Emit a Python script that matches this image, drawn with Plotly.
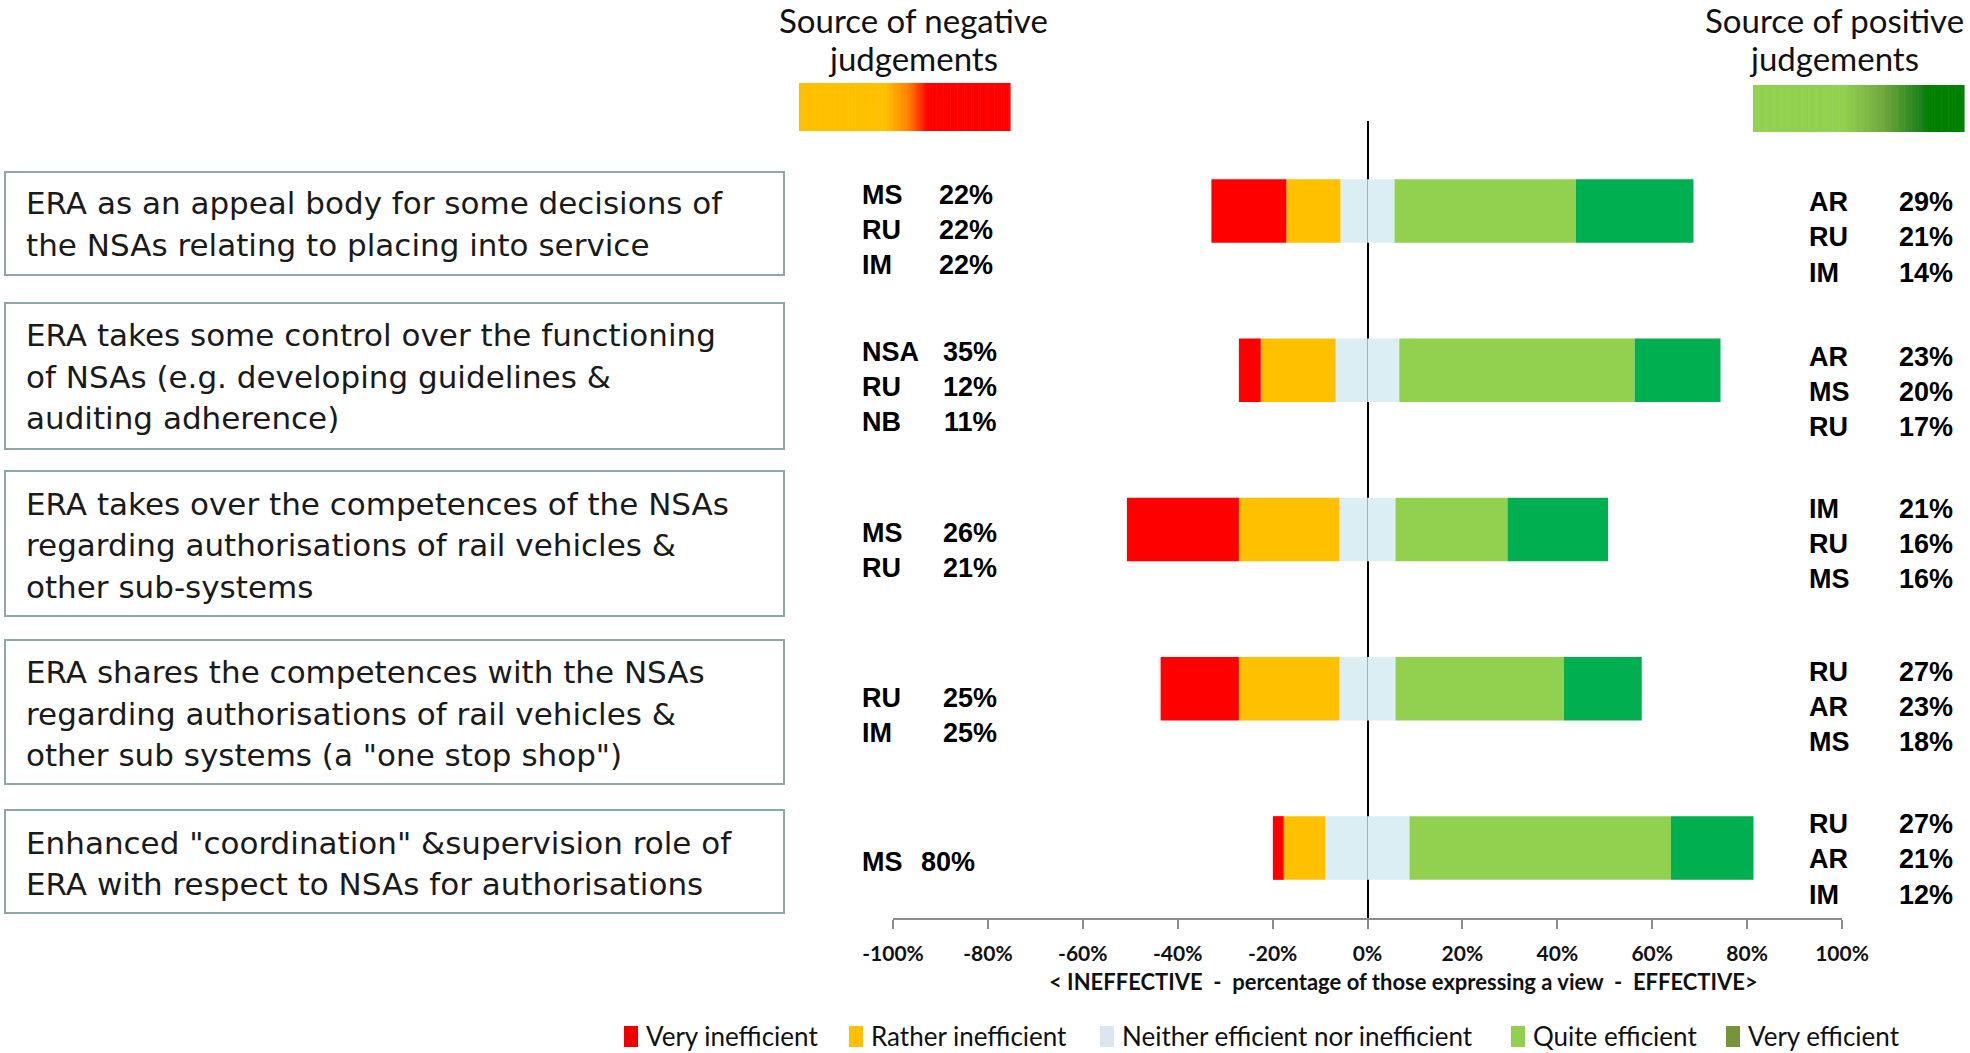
import plotly.graph_objects as go

W, H = 1970, 1053

# ---------------- data ----------------
statements = [
    ["ERA as an appeal body for some decisions of", "the NSAs relating to placing into service"],
    ["ERA takes some control over the functioning", "of NSAs (e.g. developing guidelines &", "auditing adherence)"],
    ["ERA takes over the competences of the NSAs", "regarding authorisations of rail vehicles &", "other sub-systems"],
    ["ERA shares the competences with the NSAs", "regarding authorisations of rail vehicles &", "other sub systems (a \"one stop shop\")"],
    ["Enhanced \"coordination\" &supervision role of", "ERA with respect to NSAs for authorisations"],
]
categories = [0, 1, 2, 3, 4]
very_inefficient = [15.8, 4.6, 23.6, 16.5, 2.3]
rather_inefficient = [11.4, 15.8, 21.2, 21.2, 8.8]
neither = [11.4, 13.4, 11.8, 11.8, 17.7]
quite_efficient = [38.2, 49.6, 23.6, 35.5, 55.1]
very_efficient = [24.8, 18.1, 21.2, 16.4, 17.4]

neg_codes = [["MS", "RU", "IM"], ["NSA", "RU", "NB"], ["MS", "RU"], ["RU", "IM"], ["MS"]]
neg_pcts = [[22, 22, 22], [35, 12, 11], [26, 21], [25, 25], [80]]
pos_codes = [["AR", "RU", "IM"], ["AR", "MS", "RU"], ["IM", "RU", "MS"], ["RU", "AR", "MS"], ["RU", "AR", "IM"]]
pos_pcts = [[29, 21, 14], [23, 20, 17], [21, 16, 16], [27, 23, 18], [27, 21, 12]]

tick_vals = [-100, -80, -60, -40, -20, 0, 20, 40, 60, 80, 100]
tick_text = ["-100%", "-80%", "-60%", "-40%", "-20%", "0%", "20%", "40%", "60%", "80%", "100%"]

legend_names = ["Very inefficient", "Rather inefficient", "Neither efficient nor inefficient",
                "Quite efficient", "Very efficient"]

# ---------------- styles ----------------
C_VI, C_RI, C_N, C_QE, C_VE = "#FF0000", "#FFC000", "#DAEEF3", "#92D050", "#00B050"
legend_colors = ["#EE0000", "#FFC000", "#DCE6F1", "#92D050", "#77933C"]


def px(x):
    return x / W


def py(y):
    return 1 - y / H


fig = go.Figure()
half_n = [v / 2 for v in neither]
bar_w = 0.4


def addbar(vals, color, sign):
    fig.add_trace(go.Bar(y=categories, x=[sign * v for v in vals], orientation="h",
                         marker=dict(color=color, line=dict(width=0)), width=bar_w,
                         showlegend=False, hoverinfo="skip"))


addbar(half_n, C_N, 1)
addbar(half_n, C_N, -1)
addbar(quite_efficient, C_QE, 1)
addbar(rather_inefficient, C_RI, -1)
addbar(very_efficient, C_VE, 1)
addbar(very_inefficient, C_VI, -1)

# plot area in pixels
X0, X1 = 893, 1842
Y0, Y1 = 121, 918
c0, step = 211, 159.25
ytop = (Y0 - c0) / step
ybot = (Y1 - c0) / step

fig.update_layout(
    width=W, height=H, margin=dict(l=0, r=0, t=0, b=0, autoexpand=False),
    plot_bgcolor="white", paper_bgcolor="white",
    barmode="relative", showlegend=False,
    xaxis=dict(domain=[px(X0), px(X1)], range=[-100, 100], tickvals=tick_vals, ticktext=tick_text,
               showgrid=False, zeroline=True, zerolinecolor="#000000", zerolinewidth=2,
               showline=True, linecolor="#8C8C8C", linewidth=2, ticks="outside", ticklen=9,
               tickcolor="#8C8C8C", tickwidth=2, ticklabelstandoff=7, automargin=False,
               tickfont=dict(family="Lato", size=21, color="#111111", weight="bold")),
    yaxis=dict(domain=[py(Y1), py(Y0)], range=[ybot, ytop], showgrid=False, zeroline=False,
               showticklabels=False, showline=False, ticks="", automargin=False),
    font=dict(family="Lato"),
)

shapes = []
ann = []

# axis title
ann.append(dict(x=px(1403), y=py(981), xref="paper", yref="paper", showarrow=False,
                text="< INEFFECTIVE  -  percentage of those expressing a view  -  EFFECTIVE>",
                font=dict(family="Lato", size=22, color="#111111", weight="bold"),
                xanchor="center", yanchor="middle"))

# left statement boxes
boxes = [(172, 275), (303, 449), (471, 616), (640, 784), (810, 913)]
line_ys = [[203, 245], [335, 377, 418], [504, 545, 587], [672, 714, 755], [843, 884]]
for (bt, bb), lines, ys in zip(boxes, statements, line_ys):
    shapes.append(dict(type="rect", xref="paper", yref="paper", x0=px(5), x1=px(784),
                       y0=py(bb), y1=py(bt), line=dict(color="#8FA6AA", width=2),
                       fillcolor="white", layer="below"))
    for t, yy in zip(lines, ys):
        ann.append(dict(x=px(24), y=py(yy), xref="paper", yref="paper", showarrow=False,
                        text=t, xanchor="left", yanchor="middle",
                        font=dict(family="DejaVu Sans", size=31, color="#1a1a1a")))

# negative source labels
neg_rows = [[195, 230, 265], [352, 387, 422], [533, 568], [698, 733], [862]]
neg_right = [995, 999, 999, 999, 977]
for codes, pcts, ys, xr in zip(neg_codes, neg_pcts, neg_rows, neg_right):
    for c, p, yy in zip(codes, pcts, ys):
        ann.append(dict(x=px(860), y=py(yy), xref="paper", yref="paper", showarrow=False,
                        text=c, xanchor="left", yanchor="middle",
                        font=dict(family="Liberation Sans", size=27, color="black", weight="bold")))
        ann.append(dict(x=px(xr), y=py(yy), xref="paper", yref="paper", showarrow=False,
                        text=f"{p}%", xanchor="right", yanchor="middle",
                        font=dict(family="Liberation Sans", size=27, color="black", weight="bold")))

# positive source labels
pos_rows = [[202, 237, 273], [357, 392, 427], [509, 544, 579], [672, 707, 742], [824, 859, 895]]
for codes, pcts, ys in zip(pos_codes, pos_pcts, pos_rows):
    for c, p, yy in zip(codes, pcts, ys):
        ann.append(dict(x=px(1807), y=py(yy), xref="paper", yref="paper", showarrow=False,
                        text=c, xanchor="left", yanchor="middle",
                        font=dict(family="Liberation Sans", size=27, color="black", weight="bold")))
        ann.append(dict(x=px(1955), y=py(yy), xref="paper", yref="paper", showarrow=False,
                        text=f"{p}%", xanchor="right", yanchor="middle",
                        font=dict(family="Liberation Sans", size=27, color="black", weight="bold")))

# top headings
for cx, t1 in [(913, "Source of negative"), (1834, "Source of positive")]:
    ann.append(dict(x=px(cx), y=py(20), xref="paper", yref="paper", showarrow=False, text=t1,
                    xanchor="center", yanchor="middle", font=dict(family="Lato", size=33, color="#111111")))
    ann.append(dict(x=px(cx), y=py(58), xref="paper", yref="paper", showarrow=False, text="judgements",
                    xanchor="center", yanchor="middle", font=dict(family="Lato", size=33, color="#111111")))


def hex2rgb(h):
    h = h.lstrip("#")
    return tuple(int(h[i:i + 2], 16) for i in (0, 2, 4))


def gradient_box(x0, x1, y0, y1, stops):
    n = 120
    w = (x1 - x0) / n
    for i in range(n):
        f = (i + 0.5) / n
        for j in range(len(stops) - 1):
            if stops[j][0] <= f <= stops[j + 1][0]:
                a, b = stops[j], stops[j + 1]
                t = 0 if b[0] == a[0] else (f - a[0]) / (b[0] - a[0])
                ca, cb = hex2rgb(a[1]), hex2rgb(b[1])
                col = "rgb(%d,%d,%d)" % tuple(round(ca[k] + (cb[k] - ca[k]) * t) for k in range(3))
                break
        shapes.append(dict(type="rect", xref="paper", yref="paper",
                           x0=px(x0 + i * w), x1=px(x0 + (i + 1) * w + 0.6),
                           y0=py(y1), y1=py(y0), line=dict(width=0), fillcolor=col))


gradient_box(799, 1010, 83, 131, [(0, "#FFC000"), (0.41, "#FFC000"), (0.52, "#FF8000"),
                                  (0.61, "#FF0000"), (1, "#FF0000")])
gradient_box(1753, 1964, 85, 132, [(0, "#92D050"), (0.43, "#92D050"), (0.62, "#6FA83E"),
                                   (0.8, "#1A7F1A"), (0.82, "#008000"), (1, "#008000")])

# bottom legend
leg_sq = [624, 849, 1100, 1511, 1726]
for x, name, col in zip(leg_sq, legend_names, legend_colors):
    shapes.append(dict(type="rect", xref="paper", yref="paper", x0=px(x), x1=px(x + 14),
                       y0=py(1047), y1=py(1026), line=dict(width=0), fillcolor=col))
    ann.append(dict(x=px(x + 20), y=py(1036), xref="paper", yref="paper", showarrow=False,
                    text=name, xanchor="left", yanchor="middle",
                    font=dict(family="Lato", size=26, color="#111111")))

fig.update_layout(shapes=shapes, annotations=ann)
post = ("document.body.style.margin='0';document.body.style.padding='0';"
        "document.body.style.overflow='hidden';"
        "var gd=document.getElementById('{plot_id}');"
        "Plotly.relayout(gd,{width:1970,height:1053});")
fig.write_html("out.html", config={"responsive": False, "displayModeBar": False}, post_script=post)
